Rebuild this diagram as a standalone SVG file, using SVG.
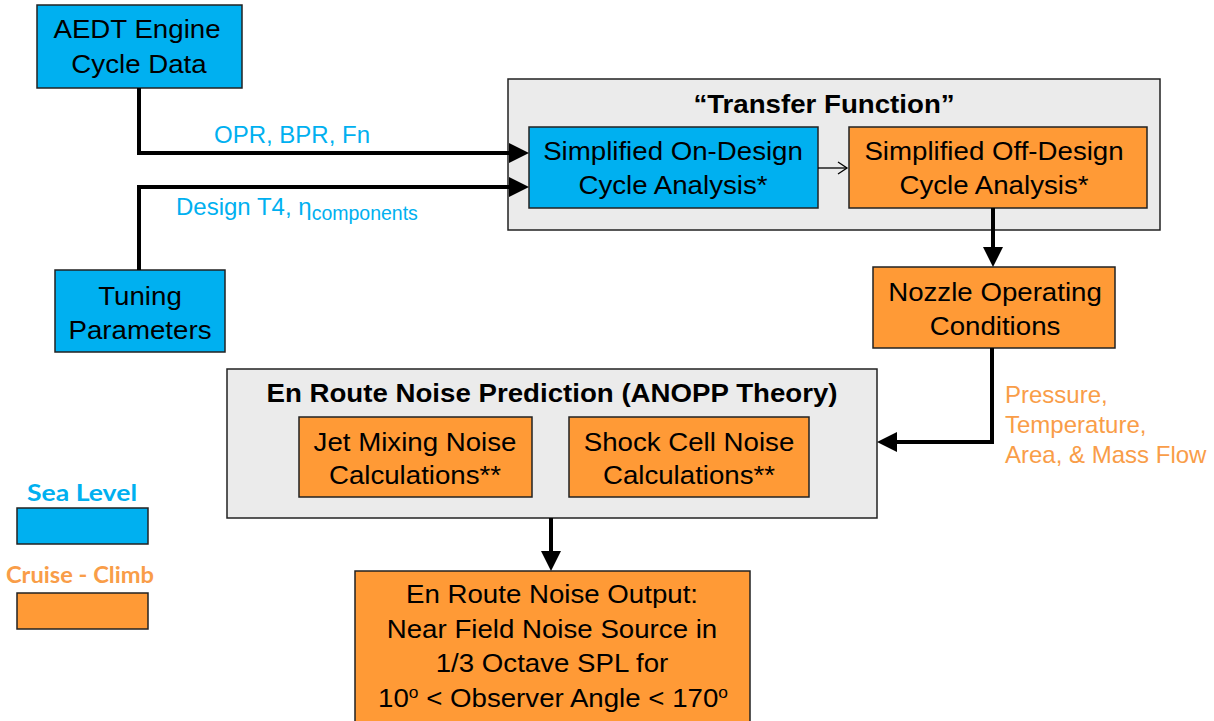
<svg xmlns="http://www.w3.org/2000/svg" width="1214" height="721" viewBox="0 0 1214 721">
<style>
.t{font-family:"Liberation Sans",Arial,sans-serif;fill:#000;text-anchor:middle;font-size:25.5px}
.h{font-family:"Liberation Sans",Arial,sans-serif;fill:#000;text-anchor:middle;font-size:25.5px;font-weight:bold}
.b{fill:#00B0F0;stroke:#222;stroke-width:1.5}
.o{fill:#FF9A36;stroke:#222;stroke-width:1.5}
.g{fill:#EBEBEB;stroke:#222;stroke-width:1.5}
.c{fill:none;stroke:#000;stroke-width:4}
.lb{font-family:"Liberation Sans",Arial,sans-serif;fill:#00B0F0;font-size:24px}
.lo{font-family:"Liberation Sans",Arial,sans-serif;fill:#F99D48;font-size:24px}
.lg{font-family:Lato,"Liberation Sans",sans-serif;font-weight:bold;font-size:22px;text-anchor:middle}
</style>
<defs>
<marker id="ah" markerWidth="5" markerHeight="5" refX="1.5" refY="2.5" orient="auto" markerUnits="strokeWidth">
<path d="M0,0 L5,2.5 L0,5 Z" fill="#000"/>
</marker>
<marker id="thin" markerWidth="12" markerHeight="14" refX="10" refY="7" orient="auto" markerUnits="userSpaceOnUse">
<path d="M1,1 L10,7 L1,13" fill="none" stroke="#000" stroke-width="1.3"/>
</marker>
</defs>

<g id="transfer-function">
<rect class="g" x="508" y="79" width="652" height="151"/>
<text class="h" transform="translate(824,113) scale(1.085,1)">“Transfer Function”</text>
</g>
<g id="en-route-prediction">
<rect class="g" x="227" y="369" width="650" height="149"/>
<text class="h" transform="translate(552,402) scale(1.085,1)">En Route Noise Prediction (ANOPP Theory)</text>
</g>

<g id="aedt">
<rect class="b" x="37" y="5" width="205" height="83"/>
<text class="t" transform="translate(137,38) scale(1.085,1)">AEDT Engine</text>
<text class="t" transform="translate(139,73) scale(1.085,1)">Cycle Data</text>
</g>
<g id="tuning">
<rect class="b" x="55" y="270" width="170" height="82"/>
<text class="t" transform="translate(140,305) scale(1.085,1)">Tuning</text>
<text class="t" transform="translate(140,339) scale(1.085,1)">Parameters</text>
</g>
<g id="on-design">
<rect class="b" x="529" y="127" width="289" height="81"/>
<text class="t" transform="translate(673,160) scale(1.085,1)">Simplified On-Design</text>
<text class="t" transform="translate(673,194) scale(1.085,1)">Cycle Analysis*</text>
</g>
<g id="off-design">
<rect class="o" x="849" y="127" width="298" height="81"/>
<text class="t" transform="translate(994,160) scale(1.085,1)">Simplified Off-Design</text>
<text class="t" transform="translate(994,194) scale(1.085,1)">Cycle Analysis*</text>
</g>
<g id="nozzle">
<rect class="o" x="873" y="267" width="242" height="81"/>
<text class="t" transform="translate(995,301) scale(1.085,1)">Nozzle Operating</text>
<text class="t" transform="translate(995,335) scale(1.085,1)">Conditions</text>
</g>
<g id="jet-mixing">
<rect class="o" x="299" y="417" width="233" height="80"/>
<text class="t" transform="translate(415,451) scale(1.085,1)">Jet Mixing Noise</text>
<text class="t" transform="translate(415,484) scale(1.085,1)">Calculations**</text>
</g>
<g id="shock-cell">
<rect class="o" x="569" y="417" width="240" height="80"/>
<text class="t" transform="translate(689,451) scale(1.085,1)">Shock Cell Noise</text>
<text class="t" transform="translate(689,484) scale(1.085,1)">Calculations**</text>
</g>
<g id="output">
<rect class="o" x="355" y="571" width="395" height="160"/>
<text class="t" transform="translate(552,603) scale(1.085,1)">En Route Noise Output:</text>
<text class="t" transform="translate(552,638) scale(1.085,1)">Near Field Noise Source in</text>
<text class="t" transform="translate(552,672) scale(1.085,1)">1/3 Octave SPL for</text>
<text class="t" transform="translate(553,707) scale(1.085,1)">10<tspan font-size="16" dy="-9">o</tspan><tspan dy="9"> &lt; Observer Angle &lt; 170</tspan><tspan font-size="16" dy="-9">o</tspan></text>
</g>

<g id="legend">
<text class="lg" x="82" y="501" fill="#00B0F0" textLength="110" lengthAdjust="spacingAndGlyphs">Sea Level</text>
<rect class="b" x="17" y="508" width="131" height="36"/>
<text class="lg" x="80" y="583" fill="#F99D48" textLength="148" lengthAdjust="spacingAndGlyphs">Cruise - Climb</text>
<rect class="o" x="17" y="593" width="131" height="36"/>
</g>

<g id="connectors">
<path class="c" d="M139,88 V153 H515" marker-end="url(#ah)"/>
<path class="c" d="M139,270 V187 H515" marker-end="url(#ah)"/>
<path d="M818,168 H847" fill="none" stroke="#000" stroke-width="1.3" marker-end="url(#thin)"/>
<path class="c" d="M993,208 V253" marker-end="url(#ah)"/>
<path class="c" d="M992,348 V442 H891" marker-end="url(#ah)"/>
<path class="c" d="M551,518 V557" marker-end="url(#ah)"/>
</g>
<g id="labels">
<text class="lb" x="214" y="143">OPR, BPR, Fn</text>
<text class="lb" x="176" y="215">Design T4, η<tspan font-size="19.5" dy="5">components</tspan></text>
<text class="lo" x="1005" y="403">Pressure,</text>
<text class="lo" x="1005" y="433">Temperature,</text>
<text class="lo" x="1005" y="463">Area, &amp; Mass Flow</text>
</g>
</svg>
